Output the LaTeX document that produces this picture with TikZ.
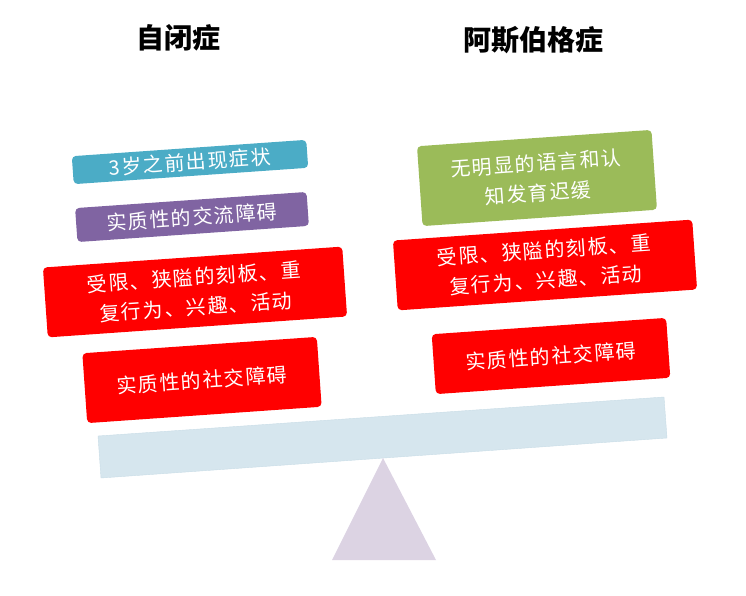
\documentclass[tikz,border=0pt]{standalone}
\usepackage{fontspec}
\newfontfamily\cjk[LetterSpace=8]{Noto Sans CJK SC}
\newfontfamily\cjkt{Noto Sans CJK SC}
\definecolor{beam}{RGB}{214,230,238}
\definecolor{beamd}{RGB}{200,220,230}
\definecolor{tri}{RGB}{220,211,227}
\definecolor{cy}{RGB}{75,172,198}
\definecolor{pu}{RGB}{128,100,162}
\definecolor{gr}{RGB}{155,187,89}
\begin{document}
\begin{tikzpicture}[x=1pt,y=-1pt,
 box/.style={rounded corners=4pt,text=white,align=center,font=\cjk\fontsize{20}{30}\selectfont,rotate=4,inner sep=0pt},
 ttl/.style={font=\cjkt\bfseries\fontsize{28}{30}\selectfont}]
\useasboundingbox (0,0) rectangle (746,596);
\node[ttl] (t1) at (178,38) {自闭症};
\node[ttl] (t2) at (533,40) {阿斯伯格症};
\filldraw[fill=beam,draw=beamd] (98,436)--(664,397)--(667,438)--(101,478)--cycle;
\fill[tri] (383,458)--(436,560)--(332,560)--cycle;
\node[box,fill=cy,minimum width=235pt,minimum height=28pt] (a1) at (190,162) {3岁之前出现症状};
\node[box,fill=pu,minimum width=232pt,minimum height=34pt] (a2) at (192,217) {实质性的交流障碍};
\node[box,fill=red,minimum width=300pt,minimum height=70pt] (a3) at (195,292) {受限、狭隘的刻板、重\\复行为、兴趣、活动};
\node[box,fill=red,minimum width=235pt,minimum height=70pt] (a4) at (202,380) {实质性的社交障碍};
\node[box,fill=gr,minimum width=235pt,minimum height=80pt] (b1) at (537,178) {无明显的语言和认\\知发育迟缓};
\node[box,fill=red,minimum width=300pt,minimum height=70pt] (b2) at (545,265) {受限、狭隘的刻板、重\\复行为、兴趣、活动};
\node[box,fill=red,minimum width=235pt,minimum height=60pt] (b3) at (551,356) {实质性的社交障碍};
\end{tikzpicture}
\end{document}
